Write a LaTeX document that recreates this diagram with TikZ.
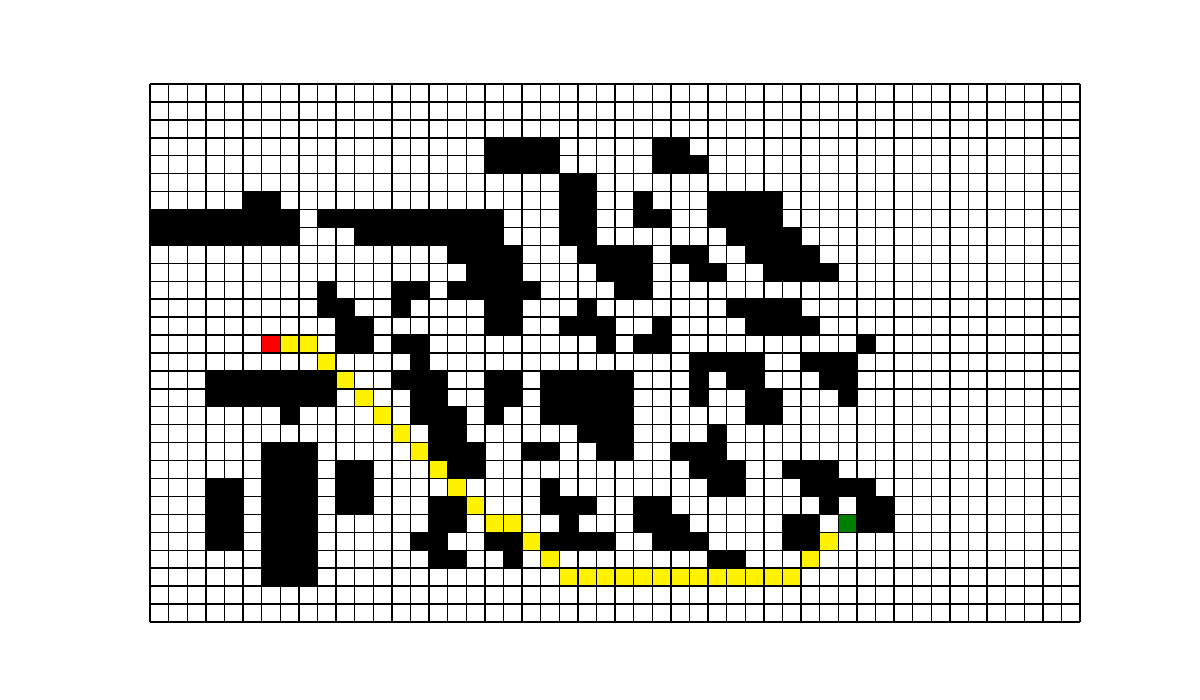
\documentclass[tikz,border=0pt]{standalone}
\usepackage{tikz}

\definecolor{goalgreen}{RGB}{0,128,0}

\begin{document}
\begin{tikzpicture}[x=0.372cm, y=-0.3586cm,
	wall/.style={fill=black},
	route/.style={fill=yellow},
	gridline/.style={black, line width=0.8pt}]
	\useasboundingbox[fill=white] (-8.065,-4.685) rectangle (56.45,34.35);
	% obstacles, row / columns
	\foreach \r/\cs in {
		3/{18,19,20,21,27,28},
		4/{18,19,20,21,27,28,29},
		5/{22,23},
		6/{5,6,22,23,26,30,31,32,33},
		7/{0,1,2,3,4,5,6,7,9,10,11,12,13,14,15,16,17,18,22,23,26,27,30,31,32,33},
		8/{0,1,2,3,4,5,6,7,11,12,13,14,15,16,17,18,22,23,31,32,33,34},
		9/{16,17,18,19,23,24,25,26,28,29,32,33,34,35},
		10/{17,18,19,24,25,26,29,30,33,34,35,36},
		11/{9,13,14,16,17,18,19,20,25,26},
		12/{9,10,13,18,19,23,31,32,33,34},
		13/{10,11,18,19,22,23,24,27,32,33,34,35},
		14/{10,11,13,14,24,26,27,38},
		15/{14,29,30,31,32,35,36,37},
		16/{3,4,5,6,7,8,9,13,14,15,18,19,21,22,23,24,25,29,31,32,36,37},
		17/{3,4,5,6,7,8,9,14,15,18,19,21,22,23,24,25,29,32,33,37},
		18/{7,14,15,16,18,21,22,23,24,25,32,33},
		19/{15,16,23,24,25,30},
		20/{6,7,8,15,16,17,20,21,24,25,28,29,30},
		21/{6,7,8,10,11,16,17,29,30,31,34,35,36},
		22/{3,4,6,7,8,10,11,21,30,31,35,36,37,38},
		23/{3,4,6,7,8,10,11,15,16,21,22,23,26,27,36,38,39},
		24/{3,4,6,7,8,15,16,22,26,27,28,34,35,38,39},
		25/{3,4,6,7,8,14,15,18,19,21,22,23,24,27,28,29,34,35},
		26/{6,7,8,15,16,19,30,31},
		27/{6,7,8}}
		\foreach \c in \cs
			\fill[wall] (\c,\r) rectangle ++(1,1);
	% path found
	\foreach \c/\r in {7/14,8/14,9/15,10/16,11/17,12/18,13/19,14/20,15/21,16/22,17/23,
		18/24,19/24,20/25,21/26,22/27,23/27,24/27,25/27,26/27,27/27,28/27,29/27,
		30/27,31/27,32/27,33/27,34/27,35/26,36/25}
		\fill[route] (\c,\r) rectangle ++(1,1);
	\fill[red] (6,14) rectangle ++(1,1);
	\fill[goalgreen] (37,24) rectangle ++(1,1);
	% grid
	\foreach \c in {0,...,50}
		\draw[gridline] (\c,0) -- (\c,30);
	\foreach \r in {0,...,30}
		\draw[gridline] (0,\r) -- (50,\r);
	\draw[black, line width=1.4pt] (0,15) -- (50,15);
\end{tikzpicture}
\end{document}
